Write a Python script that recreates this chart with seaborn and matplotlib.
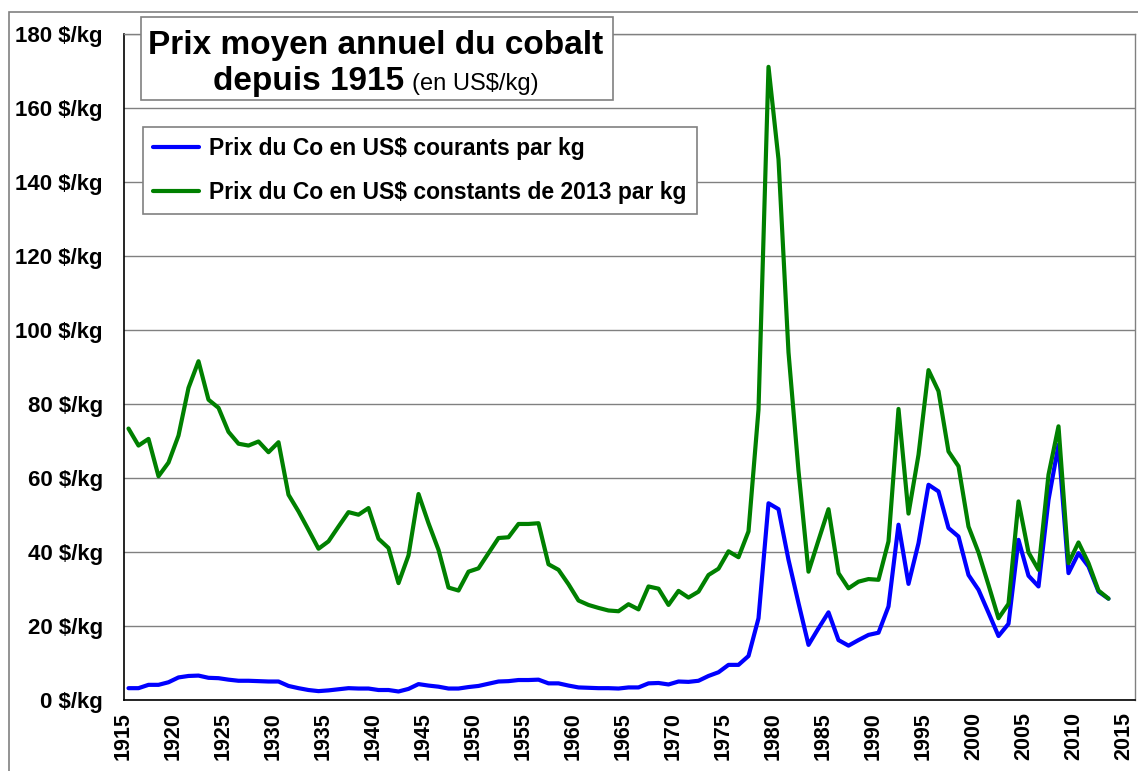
"""
Prix moyen annuel du cobalt depuis 1915 (courants et constants 2013)
"""

import matplotlib
matplotlib.use("Agg")
import matplotlib.pyplot as plt
from matplotlib.patches import Rectangle
from matplotlib.lines import Line2D
import seaborn as sns
import pandas as pd
import numpy as np

# --- data (US$/kg), one value per year 1915..2013 ---
annees = list(range(1915, 2014))

prix_courants = [
    3.2, 3.2, 4.1, 4.1, 4.8,
    6.1, 6.5, 6.6, 6.0, 5.9, 5.5, 5.2, 5.2, 5.1, 5.0,
    5.0, 3.8, 3.2, 2.7, 2.4, 2.6, 2.9, 3.2, 3.1, 3.1,
    2.7, 2.7, 2.3, 3.0, 4.3, 3.9, 3.6, 3.1, 3.1, 3.5,
    3.8, 4.4, 5.0, 5.1, 5.4, 5.4, 5.5, 4.5, 4.5, 3.9,
    3.4, 3.3, 3.2, 3.2, 3.1, 3.4, 3.4, 4.5, 4.6, 4.2,
    5.0, 4.9, 5.2, 6.5, 7.5, 9.5, 9.5, 11.9, 22.1, 53.2,
    51.6, 37.9, 26.2, 14.9, 19.4, 23.7, 16.2, 14.7, 16.2, 17.6,
    18.2, 25.3, 47.4, 31.4, 42.4, 58.2, 56.4, 46.5, 44.2, 33.8,
    29.8, 23.6, 17.3, 20.6, 43.3, 33.6, 30.7, 54.1, 69.0, 34.3,
    39.7, 36.1, 29.3, 27.4,
]

prix_constants_2013 = [
    73.4, 68.8, 70.6, 60.5, 64.2,
    71.5, 84.4, 91.6, 81.2, 79.0, 72.5, 69.3, 68.8, 69.9, 67.0,
    69.7, 55.5, 51.0, 46.0, 40.9, 42.9, 46.9, 50.8, 50.1, 51.9,
    43.6, 41.1, 31.6, 39.1, 55.7, 47.8, 40.6, 30.4, 29.6, 34.7,
    35.6, 39.7, 43.8, 44.0, 47.6, 47.6, 47.8, 36.7, 35.2, 31.3,
    26.9, 25.7, 24.9, 24.2, 24.0, 25.9, 24.5, 30.7, 30.1, 25.7,
    29.5, 27.7, 29.3, 33.8, 35.5, 40.2, 38.6, 45.6, 78.5, 171.2,
    146.2, 94.0, 62.0, 34.7, 43.2, 51.6, 34.3, 30.2, 32.0, 32.7,
    32.5, 42.9, 78.7, 50.4, 66.3, 89.2, 83.5, 67.2, 63.2, 46.9,
    39.9, 31.1, 22.1, 26.0, 53.7, 39.9, 35.2, 60.9, 74.0, 37.0,
    42.6, 37.0, 29.6, 27.4,
]

labels = ["Prix du Co en US$ courants par kg",
          "Prix du Co en US$ constants de 2013 par kg"]
y_ticks = list(range(0, 181, 20))
x_ticks = list(range(1915, 2016, 5))

BLUE = "#0000FF"
GREEN = "#008000"
GRID = "#808080"

sns.set_style("white")
plt.rcParams["font.family"] = ["Liberation Sans", "DejaVu Sans"]
plt.rcParams["text.color"] = "black"
plt.rcParams["xtick.color"] = "black"
plt.rcParams["ytick.color"] = "black"
plt.rcParams["axes.labelcolor"] = "black"

W, H = 1138, 771
fig = plt.figure(figsize=(W / 100, H / 100), dpi=100)

# plot area in pixels: left 123.5, right 1135, top 34.3, bottom 700
ax = fig.add_axes([123.5 / W, (H - 700) / H, (1135 - 123.5) / W, (700 - 34.3) / H])

df = pd.DataFrame({
    "annee": np.array(annees) + 0.5,  # points placed mid-year
    "courants": prix_courants,
    "constants": prix_constants_2013,
})

sns.lineplot(data=df, x="annee", y="courants", color=BLUE, lw=3, ax=ax)
sns.lineplot(data=df, x="annee", y="constants", color=GREEN, lw=3, ax=ax)

ax.set_xlim(1915, 2016.15)
ax.set_ylim(0, 180)
ax.set_xlabel("")
ax.set_ylabel("")

ax.set_yticks(y_ticks)
ax.set_yticklabels([f"{v} $/kg" for v in y_ticks], fontsize=16, fontweight="bold")
ax.set_xticks(x_ticks)
ax.set_xticklabels([str(v) for v in x_ticks], fontsize=15.5, fontweight="bold", rotation=90)
ax.tick_params(axis="y", direction="out", length=5, width=1, pad=10)
ax.tick_params(axis="x", direction="out", length=4, width=1, pad=5)

ax.yaxis.grid(True, color=GRID, lw=1)
ax.xaxis.grid(False)
ax.set_axisbelow(True)

for side in ["left", "bottom"]:
    ax.spines[side].set_color("black")
    ax.spines[side].set_linewidth(1.2)
for side in ["top", "right"]:
    ax.spines[side].set_color(GRID)
    ax.spines[side].set_linewidth(1)

# outer chart border
fig.patches.append(Rectangle((9 / W, -0.02), 1.0, 1 - 12 / H + 0.02,
                             transform=fig.transFigure, fill=False,
                             edgecolor=GRID, lw=1.2, zorder=0))

# title box
fig.patches.append(Rectangle((141 / W, 1 - 100 / H), (613 - 141) / W, (100 - 17.3) / H,
                             transform=fig.transFigure, facecolor="white",
                             edgecolor=GRID, lw=1.2, zorder=2))
fig.text(376 / W, 1 - 54 / H, "Prix moyen annuel du cobalt", ha="center", va="baseline",
         fontsize=24, fontweight="bold", zorder=3)
t_bold = fig.text(0, 1 - 90 / H, "depuis 1915", ha="left", va="baseline",
                  fontsize=24, fontweight="bold", zorder=3)
t_norm = fig.text(0, 1 - 90 / H, "(en US$/kg)", ha="left", va="baseline",
                  fontsize=17, zorder=3)

# centre the mixed second line on x=376 px
fig.canvas.draw()
r = fig.canvas.get_renderer()
w_bold = t_bold.get_window_extent(r).width
w_norm = t_norm.get_window_extent(r).width
gap = 8
x0 = 376 - (w_bold + gap + w_norm) / 2
t_bold.set_x(x0 / W)
t_norm.set_x((x0 + w_bold + gap) / W)

# legend
handles = [Line2D([], [], color=BLUE, lw=3), Line2D([], [], color=GREEN, lw=3)]
leg = ax.legend(handles, labels, loc="upper left",
                bbox_to_anchor=(143 / W, 1 - 127 / H), bbox_transform=fig.transFigure,
                prop={"size": 16.5, "weight": "bold"}, frameon=True, fancybox=False,
                framealpha=1, edgecolor=GRID, handlelength=2.0, handletextpad=0.45,
                borderpad=0.45, labelspacing=0.9, borderaxespad=0)
leg.get_frame().set_linewidth(1.2)

fig.savefig("out.png", dpi=100)
